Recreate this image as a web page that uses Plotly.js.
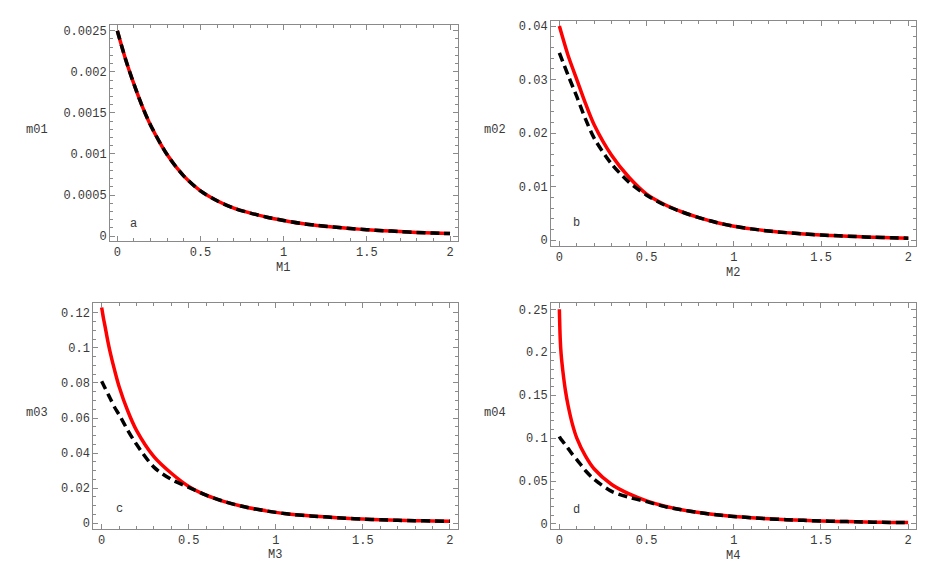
<!DOCTYPE html>
<html>
<head>
<meta charset="utf-8">
<script src="https://cdn.plot.ly/plotly-3.0.1.min.js"></script>
<style>
  html, body { margin: 0; padding: 0; background: #fff; }
  #chart { width: 939px; height: 580px; }
</style>
</head>
<body>
<div id="chart"></div>
<script>
// Sample points along M (panels a, b)
const mCoarse = [0, 0.05, 0.1, 0.15, 0.2, 0.3, 0.4, 0.5, 0.6, 0.7, 0.8, 0.9, 1.0,
                 1.1, 1.2, 1.3, 1.4, 1.5, 1.6, 1.7, 1.8, 1.9, 2.0];
// Finer sampling near zero (panels c, d)
const mFine = [0, 0.005, 0.01, 0.02, 0.035, 0.05, 0.075, 0.1, 0.15, 0.2, 0.3, 0.4, 0.5,
               0.6, 0.7, 0.8, 0.9, 1.0, 1.1, 1.2, 1.3, 1.4, 1.5, 1.6, 1.7, 1.8, 1.9, 2.0];

// Panel a: m01 vs M1
const m01Red   = [0.0025, 0.00215, 0.00185, 0.00158, 0.00135, 0.00099, 0.00073, 0.00055, 0.00043,
                  0.00034, 0.00028, 0.00023, 0.00019, 0.000155, 0.00013, 0.00011, 0.000092,
                  0.000078, 0.000066, 0.000055, 0.000045, 0.000036, 0.00003];
const m01Black = [0.0025, 0.00215, 0.00185, 0.00158, 0.00135, 0.00099, 0.00073, 0.00055, 0.00043,
                  0.00034, 0.00028, 0.00023, 0.00019, 0.000155, 0.00013, 0.00011, 0.000092,
                  0.000078, 0.000066, 0.000055, 0.000045, 0.000036, 0.00003];

// Panel b: m02 vs M2
const m02Red   = [0.040, 0.0345, 0.030, 0.0255, 0.0215, 0.0158, 0.0117, 0.0086, 0.0067, 0.0053,
                  0.0042, 0.0033, 0.0026, 0.0021, 0.0017, 0.0014, 0.00115, 0.00095, 0.0008,
                  0.00066, 0.00054, 0.00044, 0.00036];
const m02Black = [0.035, 0.0308, 0.0268, 0.0226, 0.019, 0.0142, 0.0108, 0.0084, 0.0066, 0.0053,
                  0.0042, 0.0033, 0.0026, 0.0021, 0.0017, 0.0014, 0.00115, 0.00095, 0.0008,
                  0.00066, 0.00054, 0.00044, 0.00036];

// Panel c: m03 vs M3
const m03Red   = [0.123, 0.12, 0.117, 0.112, 0.104, 0.097, 0.087, 0.078, 0.064, 0.053, 0.038,
                  0.0285, 0.021, 0.016, 0.0125, 0.0098, 0.0078, 0.0062, 0.005, 0.0042, 0.0035,
                  0.0029, 0.0024, 0.002, 0.0017, 0.0015, 0.0013, 0.0011];
const m03Black = [0.081, 0.080, 0.079, 0.077, 0.074, 0.071, 0.066, 0.062, 0.053, 0.045, 0.032,
                  0.025, 0.0205, 0.016, 0.0125, 0.0098, 0.0078, 0.0062, 0.005, 0.0042, 0.0035,
                  0.0029, 0.0024, 0.002, 0.0017, 0.0015, 0.0013, 0.0011];

// Panel d: m04 vs M4
const m04Red   = [0.25, 0.215, 0.198, 0.178, 0.155, 0.138, 0.116, 0.1, 0.079, 0.064, 0.046,
                  0.035, 0.027, 0.021, 0.0165, 0.0133, 0.0107, 0.0088, 0.0073, 0.006, 0.005,
                  0.0042, 0.0035, 0.003, 0.0025, 0.0021, 0.0018, 0.0016];
const m04Black = [0.102, 0.100, 0.0985, 0.096, 0.092, 0.088, 0.081, 0.075, 0.062, 0.052, 0.038,
                  0.031, 0.026, 0.0205, 0.0165, 0.0133, 0.0107, 0.0088, 0.0073, 0.006, 0.005,
                  0.0042, 0.0035, 0.003, 0.0025, 0.0021, 0.0018, 0.0016];

// Tick labels
const xTicks = [0, 0.5, 1, 1.5, 2];
const xTickText = ['0', '0.5', '1', '1.5', '2'];
const yTicksA = [0, 0.0005, 0.001, 0.0015, 0.002, 0.0025];
const yTextA = ['0', '0.0005', '0.001', '0.0015', '0.002', '0.0025'];
const yTicksB = [0, 0.01, 0.02, 0.03, 0.04];
const yTextB = ['0', '0.01', '0.02', '0.03', '0.04'];
const yTicksC = [0, 0.02, 0.04, 0.06, 0.08, 0.1, 0.12];
const yTextC = ['0', '0.02', '0.04', '0.06', '0.08', '0.1', '0.12'];
const yTicksD = [0, 0.05, 0.1, 0.15, 0.2, 0.25];
const yTextD = ['0', '0.05', '0.1', '0.15', '0.2', '0.25'];

const panelLetters = ['a', 'b', 'c', 'd'];
const yTitles = ['m01', 'm02', 'm03', 'm04'];
const xTitles = ['M1', 'M2', 'M3', 'M4'];

const FONT = '"Liberation Mono", "Courier New", monospace';
const TEXT_COLOR = '#3a3a3a';
const FRAME_COLOR = '#8a8a8a';

function redTrace(x, y, xa, ya) {
    return {
        x: x, y: y, xaxis: xa, yaxis: ya,
        type: 'scatter', mode: 'lines',
        line: { color: '#ff0000', width: 3.5, shape: 'spline', smoothing: 0.8 },
        hoverinfo: 'skip'
    };
}

function blackTrace(x, y, xa, ya) {
    return {
        x: x, y: y, xaxis: xa, yaxis: ya,
        type: 'scatter', mode: 'lines',
        line: { color: '#000000', width: 3.5, dash: '9px,5px', shape: 'spline', smoothing: 0.8 },
        hoverinfo: 'skip'
    };
}

const data = [
    redTrace(mCoarse, m01Red, 'x', 'y'),
    blackTrace(mCoarse, m01Black, 'x', 'y'),
    redTrace(mCoarse, m02Red, 'x2', 'y2'),
    blackTrace(mCoarse, m02Black, 'x2', 'y2'),
    redTrace(mFine, m03Red, 'x3', 'y3'),
    blackTrace(mFine, m03Black, 'x3', 'y3'),
    redTrace(mFine, m04Red, 'x4', 'y4'),
    blackTrace(mFine, m04Black, 'x4', 'y4')
];

function xAxis(domain, range, anchor) {
    return {
        domain: domain, range: range, anchor: anchor,
        showgrid: false, zeroline: false,
        showline: true, linecolor: FRAME_COLOR, linewidth: 1, mirror: 'ticks',
        ticks: 'inside', ticklen: 5, tickcolor: FRAME_COLOR, tickwidth: 1,
        tickvals: xTicks, ticktext: xTickText,
        tickfont: { family: FONT, size: 12, color: TEXT_COLOR },
        minor: { dtick: 0.1, tick0: 0, ticks: 'inside', ticklen: 3, tickcolor: FRAME_COLOR, showgrid: false }
    };
}

function yAxis(domain, range, anchor, vals, text, minorStep) {
    return {
        domain: domain, range: range, anchor: anchor,
        showgrid: false, zeroline: false,
        showline: true, linecolor: FRAME_COLOR, linewidth: 1, mirror: 'ticks',
        ticks: 'inside', ticklen: 5, tickcolor: FRAME_COLOR, tickwidth: 1,
        tickvals: vals, ticktext: text,
        tickfont: { family: FONT, size: 12, color: TEXT_COLOR },
        minor: { dtick: minorStep, tick0: 0, ticks: 'inside', ticklen: 3, tickcolor: FRAME_COLOR, showgrid: false }
    };
}

const W = 939, H = 580;
const px = v => v / W;
const py = v => 1 - v / H;

// Panel label positions (data coords) and axis title positions (pixels)
const letterPos = [[0.1, 0.000146], [0.1, 0.0032], [0.1, 0.0081], [0.1, 0.0163]];
const yTitlePos = [[37, 130], [495, 130], [37, 413], [495, 413]];
const xTitlePos = [[283, 268], [733, 273], [275, 555], [733, 556]];

const annotations = [];
panelLetters.forEach((letter, i) => {
    const suffix = i === 0 ? '' : String(i + 1);
    annotations.push({
        text: letter, xref: 'x' + suffix, yref: 'y' + suffix,
        x: letterPos[i][0], y: letterPos[i][1], showarrow: false,
        font: { family: FONT, size: 12, color: TEXT_COLOR }
    });
    annotations.push({
        text: yTitles[i], xref: 'paper', yref: 'paper',
        x: px(yTitlePos[i][0]), y: py(yTitlePos[i][1]), showarrow: false,
        xanchor: 'center', yanchor: 'middle',
        font: { family: FONT, size: 12, color: TEXT_COLOR }
    });
    annotations.push({
        text: xTitles[i], xref: 'paper', yref: 'paper',
        x: px(xTitlePos[i][0]), y: py(xTitlePos[i][1]), showarrow: false,
        xanchor: 'center', yanchor: 'middle',
        font: { family: FONT, size: 12, color: TEXT_COLOR }
    });
});

const layout = {
    width: W, height: H,
    margin: { l: 0, r: 0, t: 0, b: 0 },
    paper_bgcolor: '#ffffff', plot_bgcolor: '#ffffff',
    showlegend: false,
    xaxis:  xAxis([px(110), px(458)], [-0.044, 2.048], 'y'),
    yaxis:  yAxis([1 - 241 / H, 1 - 25 / H], [-0.00006, 0.00257], 'x', yTicksA, yTextA, 0.0001),
    xaxis2: xAxis([px(551), px(916)], [-0.048, 2.044], 'y2'),
    yaxis2: yAxis([1 - 246 / H, 1 - 20.7 / H], [-0.0011, 0.041], 'x2', yTicksB, yTextB, 0.002),
    xaxis3: xAxis([px(93.3), px(458.3)], [-0.048, 2.048], 'y3'),
    yaxis3: yAxis([1 - 528.7 / H, 1 - 303.3 / H], [-0.0031, 0.1254], 'x3', yTicksC, yTextC, 0.005),
    xaxis4: xAxis([px(551), px(916)], [-0.048, 2.045], 'y4'),
    yaxis4: yAxis([1 - 528.7 / H, 1 - 303.3 / H], [-0.0055, 0.257], 'x4', yTicksD, yTextD, 0.01),
    annotations: annotations
};

Plotly.newPlot('chart', data, layout, { staticPlot: true, displayModeBar: false });
</script>
</body>
</html>
